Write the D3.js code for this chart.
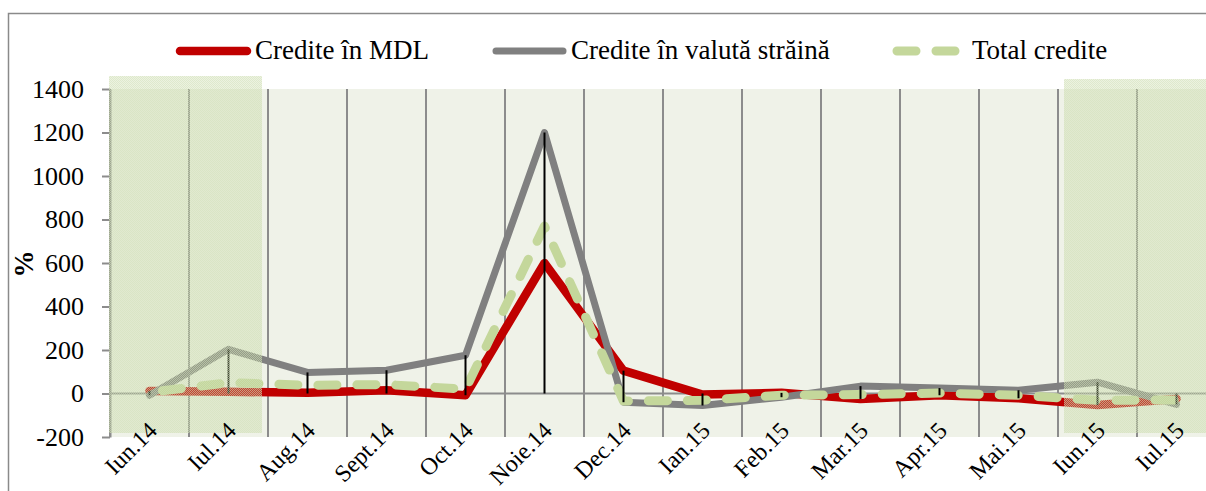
<!DOCTYPE html>
<html>
<head>
<meta charset="utf-8">
<script src="https://cdn.jsdelivr.net/npm/d3@7"></script>
<style>
  body { margin: 0; background: #fff; }
  svg { display: block; }
  text { font-family: "Liberation Serif", "Times New Roman", serif; fill: #000; }
</style>
</head>
<body>
<svg id="chart" width="1206" height="491"></svg>
<script>
// Monthly change of credits, %
const categories = ["Iun.14", "Iul.14", "Aug.14", "Sept.14", "Oct.14", "Noie.14", "Dec.14",
                    "Ian.15", "Feb.15", "Mar.15", "Apr.15", "Mai.15", "Iun.15", "Iul.15"];
const creditsMDL     = [12, 8, 3, 15, -8, 600, 105, -5, 3, -25, -8, -22, -53, -25];
const creditsForeign = [-8, 203, 97, 107, 176, 1200, -40, -55, -17, 34, 25, 15, 52, -50];
const creditsTotal   = [5, 50, 38, 41, 20, 770, -35, -31, -8, -5, 2, -8, -31, -30];
const seriesNames = ["Credite în MDL", "Credite în valută străină", "Total credite"];
const yTicks = [-200, 0, 200, 400, 600, 800, 1000, 1200, 1400];
const yTitle = "%";
// periods highlighted with a shaded band
const highlightPeriods = [["Iun.14", "Iul.14"], ["Iun.15", "Iul.15"]];

const svg = d3.select("#chart");
const plot = { left: 110, top: 89, right: 1216, bottom: 437 };

const x = d3.scaleBand().domain(categories).range([plot.left, plot.right]);
const y = d3.scaleLinear().domain([yTicks[0], yTicks[yTicks.length - 1]]).range([plot.bottom, plot.top]);
const cx = c => x(c) + x.bandwidth() / 2;

// fine checkered fill for highlighted periods
const defs = svg.append("defs");
const pat = defs.append("pattern").attr("id", "hatch")
  .attr("patternUnits", "userSpaceOnUse").attr("width", 2).attr("height", 2);
pat.append("rect").attr("width", 2).attr("height", 2).attr("fill", "rgba(196,214,160,0.32)");
pat.append("rect").attr("x", 0).attr("y", 0).attr("width", 1).attr("height", 1).attr("fill", "rgba(212,225,188,0.55)");
pat.append("rect").attr("x", 1).attr("y", 1).attr("width", 1).attr("height", 1).attr("fill", "rgba(212,225,188,0.55)");

// chart frame
svg.append("rect").attr("x", 8.5).attr("y", 13.5).attr("width", 1240).attr("height", 540)
  .attr("fill", "#fff").attr("stroke", "#8a8a8a").attr("stroke-width", 1.5);

// plot area background
svg.append("rect").attr("x", plot.left).attr("y", plot.top)
  .attr("width", plot.right - plot.left).attr("height", plot.bottom - plot.top)
  .attr("fill", "#eff2e8");

// vertical gridlines on category boundaries
const edges = categories.map(c => x(c)).concat([plot.right]);
svg.append("g").selectAll("line").data(edges).join("line")
  .attr("x1", d => d).attr("x2", d => d)
  .attr("y1", plot.top).attr("y2", plot.bottom)
  .attr("stroke", "#8c8c8c").attr("stroke-width", 2);

// category axis at zero
svg.append("line").attr("x1", plot.left).attr("x2", plot.right)
  .attr("y1", y(0)).attr("y2", y(0))
  .attr("stroke", "#8c8c8c").attr("stroke-width", 2);

// value axis
const yAxis = svg.append("g").attr("transform", `translate(${plot.left},0)`)
  .call(d3.axisLeft(y).tickValues(yTicks).tickSize(8).tickSizeOuter(0).tickPadding(18)
    .tickFormat(d => String(d)));
yAxis.select(".domain").attr("stroke", "#8c8c8c").attr("stroke-width", 2);
yAxis.selectAll(".tick line").attr("stroke", "#8c8c8c").attr("stroke-width", 2);
yAxis.selectAll(".tick text").attr("font-size", 26).attr("font-family", "Liberation Serif").attr("fill", "#000");

// axis title
svg.append("text").attr("transform", "translate(33,264) rotate(-90)")
  .attr("text-anchor", "middle").attr("font-size", 27).attr("font-weight", "bold")
  .text(yTitle);

// series
const series = [
  { name: seriesNames[0], values: creditsMDL, color: "#c00000", width: 8.5, dash: null },
  { name: seriesNames[1], values: creditsForeign, color: "#808080", width: 7, dash: null },
  { name: seriesNames[2], values: creditsTotal, color: "#c4d79b", width: 9, dash: "19,20" }
];
const line = d3.line().x((d, i) => cx(categories[i])).y(d => y(d));

// phase the dashes so that a dash reaches the peak month
const peakIdx = creditsTotal.indexOf(d3.max(creditsTotal));
const probe = svg.append("path").attr("d", line(creditsTotal.slice(0, peakIdx + 1))).attr("fill", "none");
const peakLen = probe.node().getTotalLength();
probe.remove();
const period = 39;
const dashOffset = ((17 - peakLen) % period + period) % period;

svg.append("g").selectAll("path").data(series).join("path")
  .attr("d", s => line(s.values))
  .attr("fill", "none")
  .attr("stroke", s => s.color)
  .attr("stroke-width", s => s.width)
  .attr("stroke-linecap", "round")
  .attr("stroke-linejoin", "round")
  .attr("stroke-dasharray", s => s.dash)
  .attr("stroke-dashoffset", s => s.dash ? dashOffset : null);

// high-low lines spanning all series and the zero baseline
const spans = categories.map((c, i) => {
  const [lo, hi] = d3.extent([creditsMDL[i], creditsForeign[i], creditsTotal[i], 0]);
  return { c, lo, hi };
});
svg.append("g").selectAll("line").data(spans).join("line")
  .attr("x1", d => cx(d.c)).attr("x2", d => cx(d.c))
  .attr("y1", d => y(d.hi)).attr("y2", d => y(d.lo))
  .attr("stroke", "#000").attr("stroke-width", 2);

// highlighted periods
const bandInset = [[-1, -6], [6, 0]];
const topPad = [13, 10];
svg.append("g").selectAll("rect").data(highlightPeriods).join("rect")
  .attr("x", (p, i) => x(p[0]) + bandInset[i][0])
  .attr("width", (p, i) => (x(p[1]) + x.bandwidth() + bandInset[i][1]) - (x(p[0]) + bandInset[i][0]))
  .attr("y", (p, i) => plot.top - topPad[i])
  .attr("height", (p, i) => plot.bottom - 4 - (plot.top - topPad[i]))
  .attr("fill", "url(#hatch)");

// category labels
svg.append("g").selectAll("text").data(categories).join("text")
  .attr("transform", c => `translate(${cx(c) + 9},${plot.bottom - 5}) rotate(-45)`)
  .attr("text-anchor", "end")
  .attr("font-size", 24)
  .text(c => c);

// legend
const legendX = [176, 492, 893];
const lg = svg.append("g").selectAll("g").data(series).join("g")
  .attr("transform", (s, i) => `translate(${legendX[i]},51)`);
lg.append("line").attr("x1", 4).attr("x2", 71).attr("y1", 0).attr("y2", 0)
  .attr("stroke", s => s.color).attr("stroke-width", s => s.width)
  .attr("stroke-linecap", "round").attr("stroke-dasharray", s => s.dash);
lg.append("text").attr("x", 79).attr("y", 8).attr("font-size", 27).text(s => s.name);
</script>
</body>
</html>
